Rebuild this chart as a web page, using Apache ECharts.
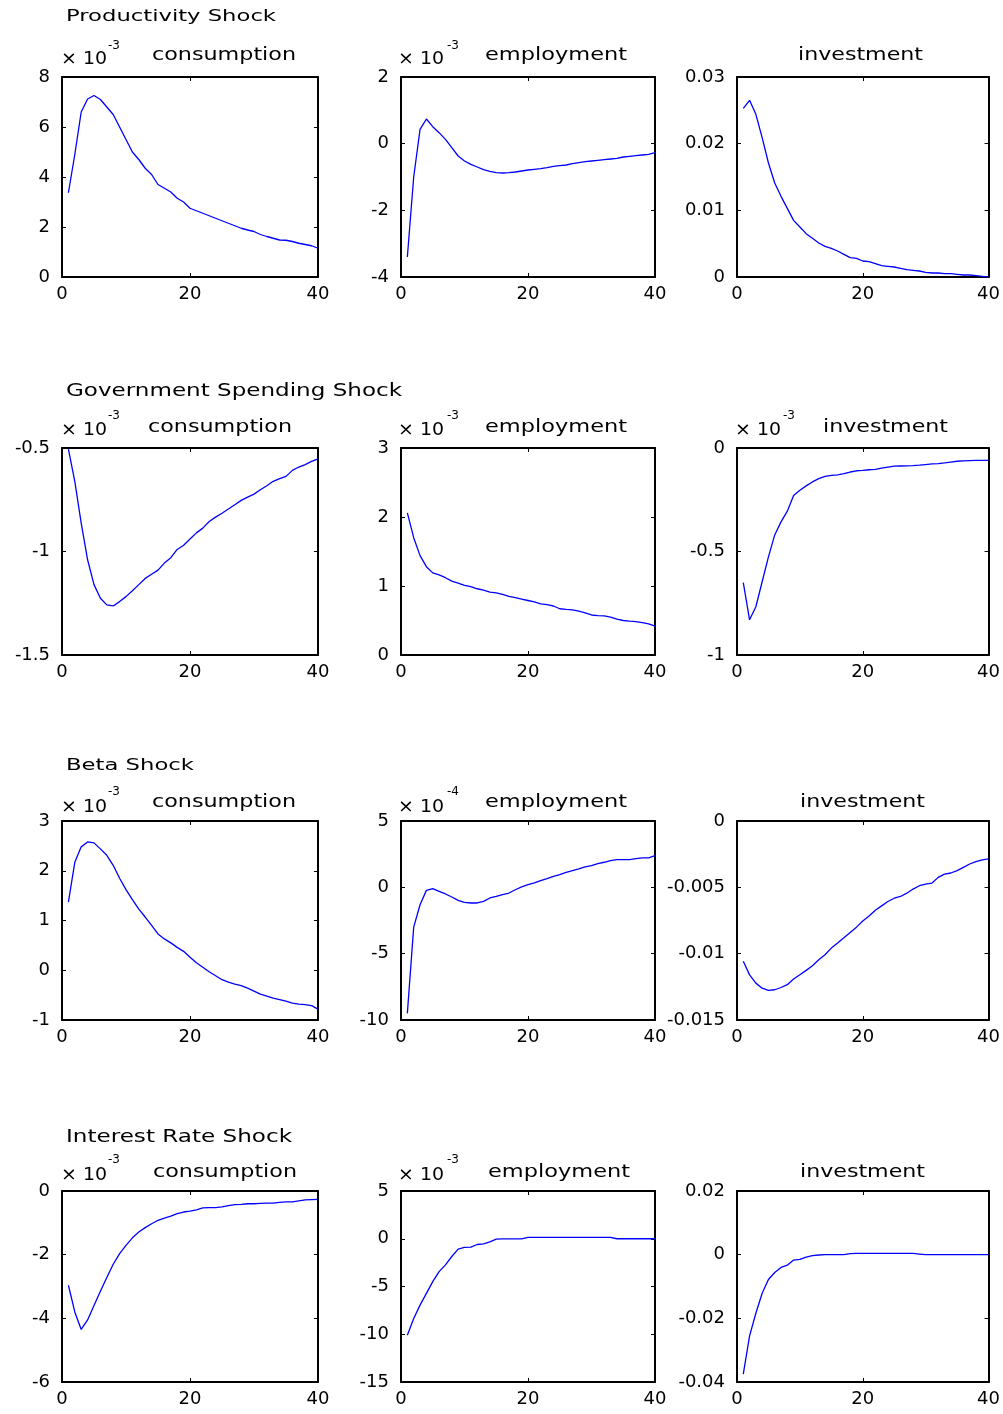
<!DOCTYPE html>
<html>
<head>
<meta charset="utf-8">
<script src="https://cdn.jsdelivr.net/npm/echarts@6/dist/echarts.min.js"></script>
<style>
  html, body { margin: 0; padding: 0; background: #fff; }
  #chart { width: 1003px; height: 1414px; }
</style>
</head>
<body>
<div id="chart"></div>
<script>
// periods after the shock
var periods = [1, 2, 3, 4, 5, 6, 7, 8, 9, 10, 11, 12, 13, 14, 15, 16, 17, 18, 19, 20,
  21, 22, 23, 24, 25, 26, 27, 28, 29, 30, 31, 32, 33, 34, 35, 36, 37, 38, 39, 40];
var xTicks = [0, 20, 40];

var shockTitles = ["Productivity Shock", "Government Spending Shock", "Beta Shock", "Interest Rate Shock"];
var varNames = ["consumption", "employment", "investment"];

// productivity shock (consumption, employment in units of 10^-3)
var prodConsumption = [3.37, 4.9, 6.6, 7.12, 7.26, 7.1, 6.8, 6.5, 6.0, 5.5, 5.0, 4.7, 4.35, 4.1, 3.7, 3.55, 3.4, 3.15, 3.0, 2.75,
  2.65, 2.55, 2.45, 2.35, 2.25, 2.15, 2.05, 1.95, 1.88, 1.82, 1.7, 1.62, 1.55, 1.48, 1.47, 1.42, 1.35, 1.3, 1.25, 1.15];
var prodEmployment = [-3.4, -1.0, 0.43, 0.74, 0.51, 0.33, 0.13, -0.12, -0.37, -0.52, -0.62, -0.7, -0.78, -0.83, -0.87, -0.88, -0.87, -0.85, -0.82, -0.79,
  -0.77, -0.75, -0.72, -0.68, -0.66, -0.64, -0.6, -0.57, -0.54, -0.52, -0.5, -0.48, -0.46, -0.44, -0.4, -0.38, -0.36, -0.34, -0.32, -0.27];
var prodInvestment = [0.0253, 0.0265, 0.0244, 0.0209, 0.0171, 0.0141, 0.0121, 0.0103, 0.0085, 0.0075, 0.0065, 0.0058, 0.0051, 0.0046, 0.0043, 0.0039, 0.0034, 0.0029, 0.0028, 0.0024,
  0.0023, 0.0020, 0.0017, 0.0016, 0.0015, 0.0013, 0.0011, 0.0010, 0.0009, 0.0007, 0.0006, 0.0006, 0.0005, 0.0005, 0.0004, 0.0003, 0.0003, 0.0002, 0.0001, 0.0000];

// government spending shock (all in units of 10^-3)
var govConsumption = [-0.505, -0.661, -0.863, -1.04, -1.16, -1.226, -1.258, -1.263, -1.242, -1.218, -1.19, -1.16, -1.13, -1.11, -1.09, -1.056, -1.03, -0.99, -0.97, -0.94,
  -0.91, -0.887, -0.855, -0.834, -0.815, -0.795, -0.774, -0.753, -0.737, -0.723, -0.702, -0.682, -0.661, -0.648, -0.637, -0.608, -0.592, -0.58, -0.565, -0.553];
var govEmployment = [2.06, 1.70, 1.44, 1.28, 1.19, 1.16, 1.12, 1.07, 1.04, 1.01, 0.99, 0.96, 0.94, 0.91, 0.90, 0.88, 0.85, 0.83, 0.81, 0.79,
  0.77, 0.74, 0.73, 0.71, 0.67, 0.66, 0.655, 0.635, 0.61, 0.58, 0.57, 0.567, 0.55, 0.52, 0.50, 0.49, 0.485, 0.47, 0.45, 0.42];
var govInvestment = [-0.65, -0.83, -0.767, -0.646, -0.526, -0.42, -0.357, -0.305, -0.23, -0.204, -0.183, -0.164, -0.148, -0.137, -0.132, -0.13, -0.124, -0.116, -0.11, -0.108,
  -0.105, -0.103, -0.097, -0.092, -0.088, -0.087, -0.086, -0.085, -0.083, -0.08, -0.077, -0.075, -0.072, -0.068, -0.064, -0.062, -0.061, -0.06, -0.06, -0.06];

// beta shock (consumption 10^-3, employment 10^-4)
var betaConsumption = [1.37, 2.17, 2.48, 2.58, 2.56, 2.44, 2.31, 2.11, 1.85, 1.62, 1.42, 1.23, 1.07, 0.90, 0.73, 0.63, 0.55, 0.46, 0.38, 0.26,
  0.15, 0.06, -0.03, -0.11, -0.19, -0.24, -0.28, -0.31, -0.36, -0.42, -0.48, -0.52, -0.56, -0.59, -0.62, -0.66, -0.68, -0.69, -0.71, -0.78];
var betaEmployment = [-9.5, -3.0, -1.31, -0.23, -0.1, -0.3, -0.5, -0.73, -0.98, -1.13, -1.18, -1.18, -1.06, -0.8, -0.68, -0.55, -0.43, -0.18, 0.03, 0.2,
  0.33, 0.5, 0.66, 0.83, 0.96, 1.13, 1.26, 1.39, 1.54, 1.64, 1.79, 1.89, 2.02, 2.09, 2.09, 2.09, 2.17, 2.22, 2.22, 2.39];
var betaInvestment = [-0.01057, -0.0116, -0.01222, -0.0126, -0.01277, -0.01272, -0.01255, -0.01234, -0.01191, -0.01159, -0.01126, -0.01091, -0.01046, -0.01008, -0.00958, -0.0092, -0.0088, -0.0084, -0.008, -0.00754,
  -0.00716, -0.00673, -0.0064, -0.00607, -0.00582, -0.00569, -0.00544, -0.00513, -0.00488, -0.00476, -0.00468, -0.00425, -0.004, -0.00392, -0.00374, -0.00349, -0.00324, -0.00306, -0.00293, -0.00286];

// interest rate shock (consumption, employment in 10^-3)
var rateConsumption = [-2.96, -3.8, -4.35, -4.05, -3.6, -3.15, -2.72, -2.30, -1.97, -1.71, -1.47, -1.29, -1.15, -1.03, -0.92, -0.85, -0.79, -0.71, -0.66, -0.63,
  -0.59, -0.53, -0.52, -0.52, -0.50, -0.46, -0.43, -0.42, -0.40, -0.40, -0.39, -0.38, -0.38, -0.36, -0.34, -0.34, -0.31, -0.28, -0.27, -0.26];
var rateEmployment = [-10.1, -8.35, -6.95, -5.72, -4.49, -3.44, -2.74, -1.86, -1.09, -0.91, -0.88, -0.6, -0.53, -0.32, -0.04, -0.02, -0.02, -0.02, -0.02, 0.15,
  0.15, 0.15, 0.15, 0.15, 0.15, 0.15, 0.15, 0.15, 0.15, 0.15, 0.15, 0.15, 0.15, 0.0, 0.0, 0.0, 0.0, 0.0, 0.0, 0.0];
var rateInvestment = [-0.0375, -0.0255, -0.0184, -0.0121, -0.0078, -0.0056, -0.004, -0.0033, -0.0017, -0.0015, -0.0008, -0.0003, -0.0001, 0, 0, 0, 0, 0.0003, 0.0004, 0.0004,
  0.0004, 0.0004, 0.0004, 0.0004, 0.0004, 0.0004, 0.0004, 0.0004, 0.0002, 0, 0, 0, 0, 0, 0, 0, 0, 0, 0, 0];

// y tick labels of each panel (row by row)
var yTicks = [
  [0, 2, 4, 6, 8], [-4, -2, 0, 2], [0, 0.01, 0.02, 0.03],
  [-1.5, -1, -0.5], [0, 1, 2, 3], [-1, -0.5, 0],
  [-1, 0, 1, 2, 3], [-10, -5, 0, 5], [-0.015, -0.01, -0.005, 0],
  [-6, -4, -2, 0], [-15, -10, -5, 0, 5], [-0.04, -0.02, 0, 0.02]
];
// exponent shown above each panel ("" = none)
var exponents = ["-3", "-3", "", "-3", "-3", "-3", "-3", "-4", "", "-3", "-3", ""];

var seriesData = [
  prodConsumption, prodEmployment, prodInvestment,
  govConsumption, govEmployment, govInvestment,
  betaConsumption, betaEmployment, betaInvestment,
  rateConsumption, rateEmployment, rateInvestment
];

(function() {
  var myChart = echarts.init(document.getElementById("chart"));
  var FONT = '"DejaVu Sans", "Liberation Sans", sans-serif';

  // layout of the 4 x 3 subplots
  var rowTop = [77, 448, 821, 1191];
  var rowHeight = [200, 207, 199, 191];
  var colLeft = [62, 401, 737];
  var colWidth = [256, 254, 254];
  var shockY = [17, 391, 766, 1138];
  var shockSize = [16, 18, 16, 17];
  var shockWidth = [210, 336, 128, 226];
  var subY = [56, 428, 803, 1173];
  var subLeft = [[152, 485, 798], [148, 485, 823], [152, 485, 800], [153, 488, 800]];
  var subWidth = [144, 142, 125];
  var expY = [60, 431, 808, 1176];
  var supY = [46, 416, 792, 1160];
  var expX = [61, 398, 735];
  var supX = [108, 447, 783];

  // the old bitmap fonts are wide: stretch texts to the widths seen in the figure
  var ctx = document.createElement("canvas").getContext("2d");
  function stretch(text, font, width) {
    ctx.font = font;
    return width / ctx.measureText(text).width;
  }

  function fmt(v) {
    return String(+v.toPrecision(6));
  }

  var grid = [], xAxis = [], yAxis = [], series = [], graphic = [];
  var axisLine = { show: true, onZero: false, lineStyle: { color: "#000", width: 2 } };
  var axisTick = { show: true, inside: true, length: 4, lineStyle: { color: "#000", width: 1 } };

  seriesData.forEach(function(values, i) {
    var r = Math.floor(i / 3), c = i % 3;
    var ticks = yTicks[i];
    grid.push({ left: colLeft[c], top: rowTop[r], width: colWidth[c], height: rowHeight[r] });

    var xBase = {
      gridIndex: i, type: "value", min: xTicks[0], max: xTicks[xTicks.length - 1],
      interval: xTicks[1] - xTicks[0], axisLine: axisLine, axisTick: axisTick,
      splitLine: { show: false }
    };
    xAxis.push(Object.assign({}, xBase, {
      position: "bottom",
      axisLabel: { color: "#000", fontFamily: FONT, fontSize: 18, margin: 8, showMinLabel: true, showMaxLabel: true }
    }));
    xAxis.push(Object.assign({}, xBase, { position: "top", axisLabel: { show: false } }));

    var yBase = {
      gridIndex: i, type: "value", min: ticks[0], max: ticks[ticks.length - 1],
      interval: ticks[1] - ticks[0], axisLine: axisLine, axisTick: axisTick,
      splitLine: { show: false }
    };
    yAxis.push(Object.assign({}, yBase, {
      position: "left",
      axisLabel: { color: "#000", fontFamily: FONT, fontSize: 18, margin: 12, formatter: fmt, showMinLabel: true, showMaxLabel: true }
    }));
    yAxis.push(Object.assign({}, yBase, { position: "right", axisLabel: { show: false } }));

    series.push({
      type: "line",
      xAxisIndex: 2 * i,
      yAxisIndex: 2 * i,
      data: periods.map(function(p, k) { return [p, values[k]]; }),
      showSymbol: false,
      symbol: "none",
      silent: true,
      lineStyle: { color: "#0000ff", width: 1.3 }
    });

    // subplot title
    var subFont = "17px " + FONT;
    graphic.push({
      type: "text", x: subLeft[r][c], y: subY[r],
      scaleX: stretch(varNames[c], subFont, subWidth[c]),
      style: { text: varNames[c], fill: "#000", font: subFont, textVerticalAlign: "middle", verticalAlign: "middle" }
    });
    // "x 10^n" scale label
    if (exponents[i]) {
      var expFont = "17px " + FONT;
      graphic.push({
        type: "text", x: expX[c], y: expY[r],
        scaleX: stretch("\u00d7 10", expFont, 46),
        style: { text: "\u00d7 10", fill: "#000", font: expFont, textVerticalAlign: "middle", verticalAlign: "middle" }
      });
      graphic.push({
        type: "text", x: supX[c], y: supY[r],
        style: { text: exponents[i], fill: "#000", font: "12px " + FONT, textVerticalAlign: "middle", verticalAlign: "middle" }
      });
    }
  });

  shockTitles.forEach(function(t, r) {
    var f = shockSize[r] + "px " + FONT;
    graphic.push({
      type: "text", x: 66, y: shockY[r],
      scaleX: stretch(t, f, shockWidth[r]),
      style: { text: t, fill: "#000", font: f, textVerticalAlign: "middle", verticalAlign: "middle" }
    });
  });

  var option = {
    backgroundColor: "#fff",
    animation: false,
    grid: grid,
    xAxis: xAxis,
    yAxis: yAxis,
    series: series,
    graphic: graphic
  };
  myChart.setOption(option);
})();
</script>
</body>
</html>
